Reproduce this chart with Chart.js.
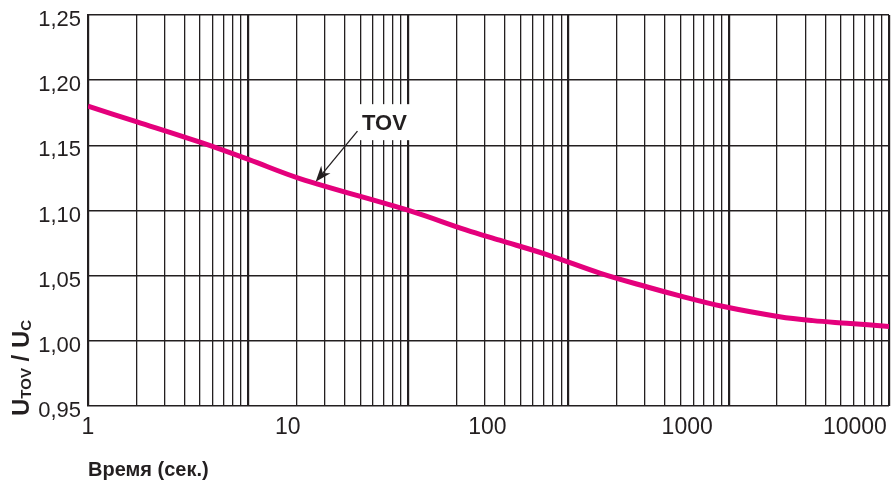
<!DOCTYPE html>
<html lang="ru">
<head>
    <meta charset="UTF-8">
    <title>TOV</title>
    <script src="https://cdn.jsdelivr.net/npm/chart.js@4.4.1/dist/chart.umd.min.js"></script>
    <style>
        body { margin: 0; background: #fff; }
        #box { width: 894px; height: 487px; }
    </style>
</head>
<body>
    <div id="box"><canvas id="tov" width="894" height="487"></canvas></div>

    <script>
        // curve: time (s) and U_TOV / U_C
        const timeSec = [1, 1.76, 3.7, 6.4, 11.5, 41, 78, 115, 200, 365, 625, 920, 1500, 2900, 4260, 6300, 10245];
        const ratio = [1.180, 1.168, 1.152, 1.139, 1.1245, 1.0997, 1.0851, 1.0772, 1.066, 1.052, 1.0415, 1.0345, 1.0265, 1.0185, 1.0155, 1.0135, 1.011];

        const xLabels = [1, 10, 100, 1000, 10000];
        const yTicks = [0.95, 1.00, 1.05, 1.10, 1.15, 1.20, 1.25];

        const ink = '#231f20';
        const fontFamily = '"Liberation Sans", Arial, Helvetica, sans-serif';

        // log-paper lines: 1..9 x 10^k, five decades
        const paperTicks = [];
        for (let k = 0; k < 5; k++) {
            for (let m = 1; m <= 9; m++) paperTicks.push({value: m * Math.pow(10, k)});
        }
        paperTicks.push({value: 100000});

        const isDecade = v => Math.abs(Math.log10(v) - Math.round(Math.log10(v))) < 1e-9;

        const tovNote = {
            id: 'tovNote',
            afterDatasetsDraw(chart) {
                const {ctx, scales: {x, y}} = chart;
                const cx = x.getPixelForValue(30.5);
                const cy = y.getPixelForValue(1.167);
                ctx.save();
                ctx.font = 'bold 22px ' + fontFamily;
                const w = ctx.measureText('TOV').width;
                ctx.fillStyle = '#fff';
                ctx.fillRect(cx - w / 2 - 5, cy - 19, w + 10, 36);
                ctx.fillStyle = ink;
                ctx.textAlign = 'center';
                ctx.textBaseline = 'middle';
                ctx.fillText('TOV', cx, cy + 1);

                // arrow to the curve
                const sx = cx - 27, sy = cy + 8;
                const tx = x.getPixelForValue(13.8), ty = y.getPixelForValue(1.122);
                const a = Math.atan2(ty - sy, tx - sx);
                ctx.strokeStyle = ink;
                ctx.lineWidth = 1.3;
                ctx.beginPath();
                ctx.moveTo(sx, sy);
                ctx.lineTo(tx - 10 * Math.cos(a), ty - 10 * Math.sin(a));
                ctx.stroke();
                ctx.translate(tx, ty);
                ctx.rotate(a);
                ctx.beginPath();
                ctx.moveTo(0, 0);
                ctx.lineTo(-16, -6);
                ctx.lineTo(-11, 0);
                ctx.lineTo(-16, 6);
                ctx.closePath();
                ctx.fillStyle = ink;
                ctx.fill();
                ctx.restore();
            }
        };

        const yTitle = {
            id: 'yTitle',
            afterDraw(chart) {
                const ctx = chart.ctx;
                const parts = [['U', 24, 0], ['TOV', 15, 2], [' / U', 24, 0], ['C', 15, 2]];
                ctx.save();
                ctx.translate(29, chart.chartArea.bottom + 10);
                ctx.rotate(-Math.PI / 2);
                ctx.fillStyle = ink;
                ctx.textBaseline = 'alphabetic';
                let pos = 0;
                parts.forEach(p => {
                    ctx.font = 'bold ' + p[1] + 'px ' + fontFamily;
                    ctx.fillText(p[0], pos, p[2]);
                    pos += ctx.measureText(p[0]).width;
                });
                ctx.restore();
            }
        };

        const chart = new Chart(document.getElementById('tov').getContext('2d'), {
            type: 'line',
            data: {
                datasets: [{
                    label: 'TOV',
                    data: timeSec.map((t, i) => ({x: t, y: ratio[i]})),
                    xAxisID: 'x',
                    yAxisID: 'y',
                    borderColor: '#e4007c',
                    borderWidth: 5,
                    pointRadius: 0,
                    tension: 0.35,
                    fill: false
                }]
            },
            options: {
                responsive: false,
                animation: false,
                devicePixelRatio: 1,
                layout: {padding: {top: 15, right: 5, left: 0, bottom: 0}},
                plugins: {legend: {display: false}, tooltip: {enabled: false}},
                scales: {
                    xg: {
                        type: 'logarithmic',
                        position: 'bottom',
                        weight: 0,
                        min: 1,
                        max: 100000,
                        afterBuildTicks: s => { s.ticks = paperTicks.map(t => ({value: t.value})); },
                        afterFit: s => { s.height = 0; s.paddingLeft = 0; s.paddingRight = 0; },
                        ticks: {display: false},
                        border: {display: false},
                        grid: {
                            drawTicks: false,
                            color: ink,
                            lineWidth: c => (c.tick && isDecade(c.tick.value)) ? 2.2 : 1.3
                        }
                    },
                    x: {
                        type: 'logarithmic',
                        position: 'bottom',
                        weight: 1,
                        min: 1,
                        max: 10245,
                        afterBuildTicks: s => {
                            s.ticks = [{value: 1}].concat(xLabels.map(v => ({value: v})));
                        },
                        afterFit: s => { s.height = 81; s.paddingLeft = 0; s.paddingRight = 0; },
                        border: {display: false},
                        grid: {display: false, drawTicks: false},
                        ticks: {
                            autoSkip: false,
                            maxRotation: 0,
                            align: 'inner',
                            padding: 8,
                            color: ink,
                            font: {family: fontFamily, size: 23},
                            callback: (v, i) => i === 0 ? '' : String(xLabels[i - 1])
                        },
                        title: {
                            display: true,
                            text: 'Время (сек.)',
                            align: 'start',
                            color: ink,
                            font: {family: fontFamily, size: 20, weight: 'bold'},
                            padding: {top: 0, bottom: 5}
                        }
                    },
                    y: {
                        type: 'linear',
                        min: 0.95,
                        max: 1.25,
                        afterBuildTicks: s => { s.ticks = yTicks.map(v => ({value: v})); },
                        afterFit: s => { s.width = 88; s.paddingTop = 0; s.paddingBottom = 0; },
                        border: {display: true, color: ink, width: 2},
                        grid: {drawTicks: false, color: ink, lineWidth: 1.6},
                        ticks: {
                            padding: 7,
                            labelOffset: 5,
                            color: ink,
                            font: {family: fontFamily, size: 22},
                            callback: v => v.toFixed(2).replace('.', ',')
                        }
                    }
                }
            },
            plugins: [tovNote, yTitle]
        });
    </script>
</body>
</html>
